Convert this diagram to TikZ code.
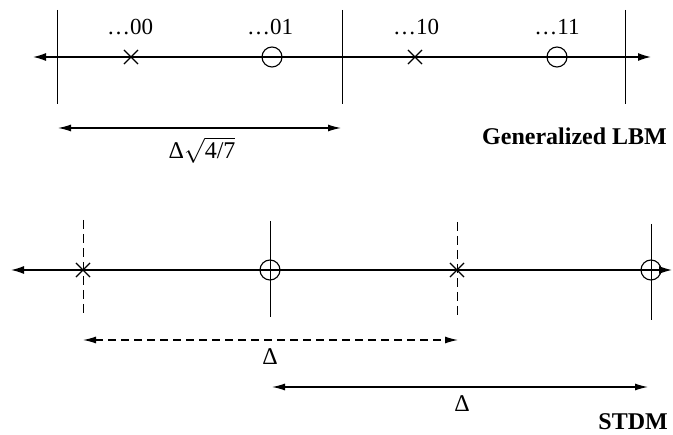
\documentclass[tikz,border=0pt]{standalone}
\usepackage{fontspec}
\setmainfont{Liberation Serif}
\usetikzlibrary{arrows.meta,shapes.misc}
\tikzset{
  axis/.style={line width=1.4pt,{Latex[length=13pt,width=8pt]}-{Latex[length=13pt,width=8pt]}},
  tick/.style={line width=1pt},
  dtick/.style={line width=1pt,dash pattern=on 9pt off 5pt},
  dim/.style={line width=1.2pt,{Latex[length=13pt,width=7pt]}-{Latex[length=13pt,width=7pt]}},
  ddim/.style={dim,dash pattern=on 8pt off 5pt},
  xmark/.style={draw,cross out,line width=1.1pt,minimum size=13pt,inner sep=0pt},
  omark/.style={draw,circle,line width=1.1pt,minimum size=20pt,inner sep=0pt},
  lbl/.style={font=\fontsize{23}{27}\selectfont,anchor=base,inner sep=0pt},
  dlbl/.style={font=\fontsize{24}{28}\selectfont,anchor=base,inner sep=0pt},
  ttl/.style={font=\fontsize{24}{28}\selectfont\bfseries,anchor=base east,inner sep=0pt},
}
\begin{document}
\begin{tikzpicture}[x=1pt,y=-1pt]
\useasboundingbox (0,0) rectangle (673,435);
% ---------- Generalized LBM ----------
\coordinate (aL) at (33,57);
\coordinate (aR) at (651,57);
\draw[axis] (aL) -- (aR);
\foreach \x/\n in {57/a,342/b,625/c}{
  \coordinate (t\n1) at (\x,10);
  \coordinate (t\n2) at (\x,104);
  \draw[tick] (t\n1) -- (t\n2);
}
\node[xmark] (x00) at (131,57) {};
\node[omark] (o01) at (272,57) {};
\node[xmark] (x10) at (415,57) {};
\node[omark] (o11) at (557,57) {};
\node[lbl] (l00) at (130,35) {…00};
\node[lbl] (l01) at (270,35) {…01};
\node[lbl] (l10) at (416,35) {…10};
\node[lbl] (l11) at (557,35) {…11};
\coordinate (d1L) at (58,128);
\coordinate (d1R) at (341,128);
\draw[dim] (d1L) -- (d1R);
\node[dlbl] (dl1) at (202,159) {Δ$\sqrt{\mbox{4/7}}$};
\node[ttl] (t1) at (667,145) {Generalized LBM};
% ---------- STDM ----------
\coordinate (bL) at (11,270);
\coordinate (bR) at (672,270);
\draw[axis] (bL) -- (bR);
\coordinate (v11) at (83,220); \coordinate (v12) at (83,317);
\coordinate (v21) at (270,221); \coordinate (v22) at (270,317);
\coordinate (v31) at (457,222); \coordinate (v32) at (457,318);
\coordinate (v41) at (651,224); \coordinate (v42) at (651,320);
\draw[dtick] (v11) -- (v12);
\draw[tick] (v21) -- (v22);
\draw[dtick] (v31) -- (v32);
\draw[tick] (v41) -- (v42);
\node[xmark] (xa) at (83,270) {};
\node[omark] (oa) at (270,270) {};
\node[xmark] (xb) at (457,270) {};
\node[omark] (ob) at (651,270) {};
\coordinate (d2L) at (83,340);
\coordinate (d2R) at (458,340);
\draw[ddim] (d2L) -- (d2R);
\node[dlbl] (dl2) at (270,365) {Δ};
\coordinate (d3L) at (272,387);
\coordinate (d3R) at (648,387);
\draw[dim] (d3L) -- (d3R);
\node[dlbl] (dl3) at (462,412) {Δ};
\node[ttl] (t2) at (668,430) {STDM};
\end{tikzpicture}
\end{document}
